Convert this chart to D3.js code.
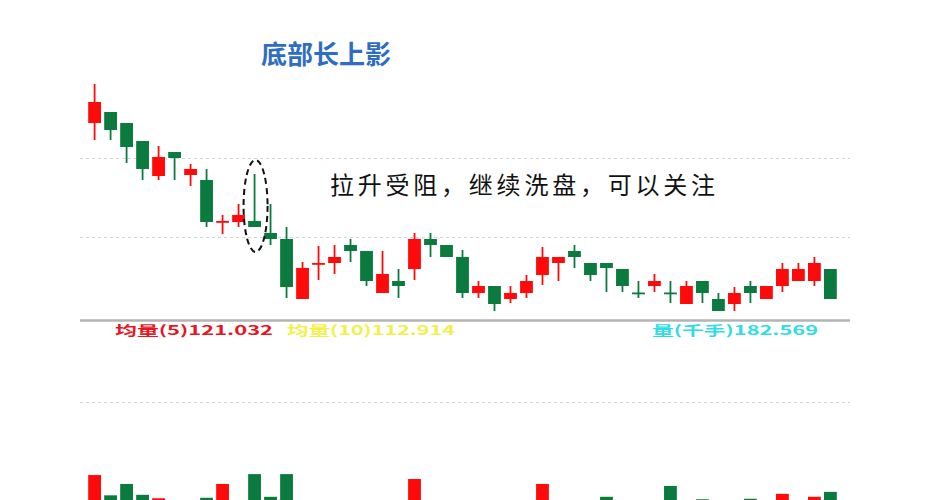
<!DOCTYPE html>
<html><head><meta charset="utf-8">
<script src="https://cdn.jsdelivr.net/npm/d3@7"></script>
<style>html,body{margin:0;padding:0;background:#fff;}svg{display:block;}</style>
</head><body>
<svg id="c" width="946" height="500"></svg>
<script>
const days = [1,2,3,4,5,6,7,8,9,10,11,12,13,14,15,16,17,18,19,20,21,22,23,24,25,26,27,28,29,30,31,32,33,34,35,36,37,38,39,40,41,42,43,44,45,46,47];
const open  = [17.08,17.52,17.08,16.36,14.96,15.92,15.00,14.80,13.14,13.12,13.16,12.68,12.44,10.04,11.46,11.48,12.20,11.96,10.28,10.76,11.24,12.44,12.20,11.72,10.28,10.56,10.04,10.28,11.00,11.48,11.96,11.48,11.48,11.24,10.30,10.56,10.30,9.84,10.76,10.04,9.84,10.56,10.04,10.56,10.76,10.76,11.24];
const close = [17.92,16.80,16.12,15.24,15.72,15.68,15.24,13.12,13.16,13.40,12.92,12.44,10.52,11.28,11.48,11.72,11.96,10.76,11.04,10.56,12.44,12.20,11.72,10.28,10.56,9.84,10.28,10.76,11.72,11.72,11.72,11.00,11.28,10.56,10.28,10.76,10.28,10.56,10.28,9.56,10.28,10.28,10.56,11.24,11.24,11.48,10.04];
const high  = [18.64,17.52,17.08,16.36,16.16,15.92,15.44,15.24,13.40,13.84,15.04,13.84,12.92,11.52,12.16,12.20,12.44,11.96,11.96,11.24,12.68,12.68,12.20,12.00,10.76,10.56,10.56,11.00,12.12,11.72,12.20,11.48,11.48,11.24,10.76,11.04,10.76,10.76,10.76,10.28,10.52,10.76,10.56,11.48,11.48,11.72,11.24];
const low   = [16.40,16.40,15.48,14.80,14.80,14.80,14.56,12.92,12.64,12.92,12.92,12.20,10.08,10.04,10.80,11.04,11.52,10.56,10.28,10.08,10.80,11.72,11.72,10.08,10.08,9.56,9.88,10.08,10.60,10.76,11.28,10.76,10.32,10.32,10.08,10.32,9.88,9.84,9.88,9.56,9.56,9.88,10.04,10.32,10.76,10.56,10.04];
const volume = [172,131,154,132,125,100,95,126,154,110,174,128,174,105,90,80,98,112,85,92,164,100,88,115,80,108,76,96,154,102,110,95,128,104,84,90,150,112,123,98,108,124,94,134,118,128,138];
const title = "底部长上影";
const note = "拉升受阻，继续洗盘，可以关注";
const legendMA5 = "均量(5)121.032";
const legendMA10 = "均量(10)112.914";
const legendVol = "量(千手)182.569";
const priceTicks = [15.68, 12.52];
const volTicks = [320];

const RED = "#ff0a0a", GREEN = "#0b7a3e";
const svg = d3.select("#c");

const x = d3.scaleBand().domain(days).range([85, 840]).padding(0.2);
const y = d3.scaleLinear().domain([2, 22]).range([500, 0]);
const yv = d3.scaleLinear().domain([0, 320]).range([560, 402]);

// grid lines
svg.append("g").selectAll("line").data(priceTicks).join("line")
  .attr("x1", 80).attr("x2", 850)
  .attr("y1", d => Math.round(y(d)) + 0.5).attr("y2", d => Math.round(y(d)) + 0.5)
  .attr("stroke", "#d4d4d4").attr("stroke-width", 1).attr("stroke-dasharray", "3,3");
svg.append("g").selectAll("line").data(volTicks).join("line")
  .attr("x1", 80).attr("x2", 850)
  .attr("y1", d => Math.round(yv(d)) + 0.5).attr("y2", d => Math.round(yv(d)) + 0.5)
  .attr("stroke", "#d4d4d4").attr("stroke-width", 1).attr("stroke-dasharray", "3,3");

// separator
svg.append("line").attr("x1", 80).attr("x2", 850).attr("y1", 320.5).attr("y2", 320.5)
  .attr("stroke", "#b4b4b4").attr("stroke-width", 2.5);

const data = days.map((d, i) => ({d, o: open[i], c: close[i], h: high[i], l: low[i], v: volume[i], up: close[i] >= open[i]}));

// wicks
const g = svg.append("g");
g.selectAll("line.wick").data(data).join("line").attr("class", "wick")
  .attr("x1", d => x(d.d) + x.bandwidth() / 2).attr("x2", d => x(d.d) + x.bandwidth() / 2)
  .attr("y1", d => y(d.h)).attr("y2", d => y(d.l))
  .attr("stroke", d => d.up ? RED : GREEN).attr("stroke-width", 1.8);
// bodies
g.selectAll("rect.body").data(data).join("rect").attr("class", "body")
  .attr("x", d => x(d.d)).attr("width", x.bandwidth())
  .attr("y", d => y(Math.max(d.o, d.c)))
  .attr("height", d => Math.max(1.8, Math.abs(y(d.o) - y(d.c))))
  .attr("fill", d => d.up ? RED : GREEN);

// volume bars
svg.append("g").selectAll("rect").data(data).join("rect")
  .attr("x", d => x(d.d)).attr("width", x.bandwidth())
  .attr("y", d => yv(d.v)).attr("height", d => yv(0) - yv(d.v))
  .attr("fill", d => d.up ? RED : GREEN);

// dashed ellipse around candle 11
const target = data[10];
svg.append("ellipse")
  .attr("cx", x(target.d) + x.bandwidth() / 2 + 1).attr("cy", 206)
  .attr("rx", 12).attr("ry", 46)
  .attr("fill", "none").attr("stroke", "#111").attr("stroke-width", 2).attr("stroke-dasharray", "6,4");

// title
svg.append("text").attr("x", 326).attr("y", 64).attr("text-anchor", "middle")
  .attr("font-family", "'Noto Sans CJK SC', sans-serif").attr("font-weight", 700)
  .attr("font-size", 26).attr("fill", "#2f6dc2").text(title);

// annotation
svg.append("text").attr("x", 330).attr("y", 194)
  .attr("font-family", "'Noto Sans CJK SC', sans-serif").attr("font-weight", 400)
  .attr("font-size", 24).attr("textLength", 385).attr("lengthAdjust", "spacing")
  .attr("fill", "#111").text(note);

// legends
const leg = [
  {t: legendMA5, x: 115, w: 158, c: "#e8141e"},
  {t: legendMA10, x: 287, w: 168, c: "#f2f04a"},
  {t: legendVol, x: 652, w: 166, c: "#30dce6"}
];
svg.append("g").selectAll("text").data(leg).join("text")
  .attr("x", d => d.x).attr("y", 335)
  .attr("font-family", "'Noto Sans CJK SC', sans-serif").attr("font-weight", 700)
  .attr("font-size", 13).attr("textLength", d => d.w).attr("lengthAdjust", "spacingAndGlyphs")
  .attr("fill", d => d.c).text(d => d.t);
</script>
</body></html>
